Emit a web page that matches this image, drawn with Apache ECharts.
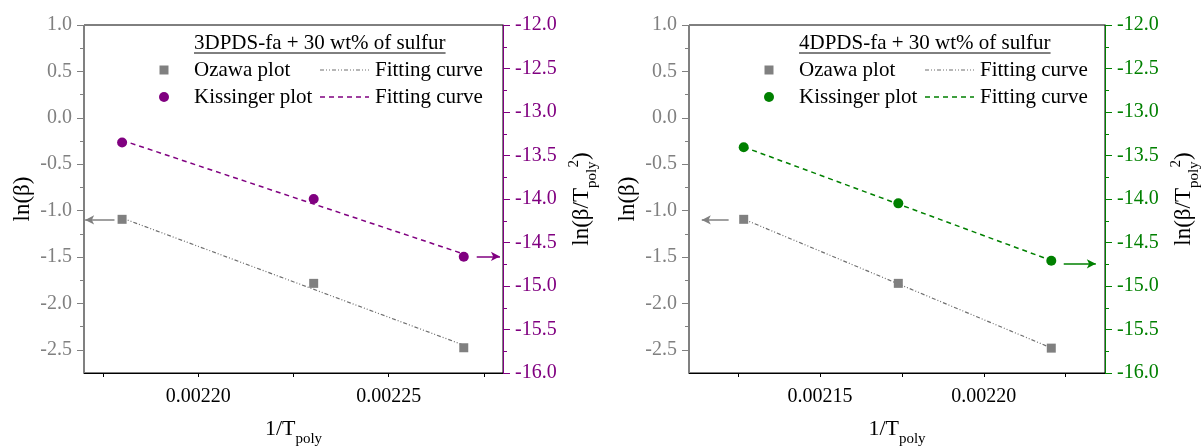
<!DOCTYPE html>
<html>
<head>
<meta charset="utf-8">
<title>Ozawa and Kissinger plots</title>
<script src="https://cdn.jsdelivr.net/npm/echarts@6/dist/echarts.min.js"></script>
<style>
  html, body { margin: 0; padding: 0; background: #fff; }
  #chart { width: 1202px; height: 447px; }
</style>
</head>
<body>
<div id="chart"></div>
<script>
// ---- data: 3DPDS-fa + 30 wt% of sulfur ----
const invT_3D = [0.0021800, 0.0022303, 0.0022697];
const ozawa_3D = [-1.094, -1.784, -2.478];          // ln(beta)
const kissinger_3D = [-13.351, -14.000, -14.664];   // ln(beta/Tpoly^2)
const ozawaFit_3D = [-1.080, -2.450];               // fitted values at first/last 1/Tpoly
const kissingerFit_3D = [-13.325, -14.632];
const leftArrow_3D = { x: [0.0021780, 0.0021703], y: -1.10 };
const rightArrow_3D = { x: [0.0022731, 0.0022792], y: -14.66 };

// ---- data: 4DPDS-fa + 30 wt% of sulfur ----
const invT_4D = [0.0021267, 0.0021739, 0.0022206];
const ozawa_4D = [-1.094, -1.784, -2.482];
const kissinger_4D = [-13.405, -14.050, -14.710];
const ozawaFit_4D = [-1.092, -2.480];
const kissingerFit_4D = [-13.402, -14.707];
const leftArrow_4D = { x: [0.0021221, 0.0021139], y: -1.10 };
const rightArrow_4D = { x: [0.0022244, 0.0022342], y: -14.745 };

// ---- axis ranges and tick values ----
const xRange_3D = [0.00217, 0.00228];
const xTicks_3D = [0.002175, 0.00220, 0.002225, 0.00225, 0.002275];
const xLabels_3D = [0.00220, 0.00225];
const xRange_4D = [0.00211, 0.002237];
const xTicks_4D = [0.002125, 0.00215, 0.002175, 0.00220, 0.002225];
const xLabels_4D = [0.00215, 0.00220];
const lnBetaRange = [-2.75, 1.0];
const lnBetaMajor = [1.0, 0.5, 0.0, -0.5, -1.0, -1.5, -2.0, -2.5];
const lnBetaMinor = [0.75, 0.25, -0.25, -0.75, -1.25, -1.75, -2.25];
const lnBetaT2Range = [-16, -12];

const titles = ['3DPDS-fa + 30 wt% of sulfur', '4DPDS-fa + 30 wt% of sulfur'];

const FONT = '"Liberation Serif", "Times New Roman", serif';
const GREY = '#808080';
const PURPLE = '#800080';
const GREEN = '#008000';

const chart = echarts.init(document.getElementById('chart'), null, { renderer: 'canvas' });

const panels = [
  { left: 84, width: 419, color: PURPLE, invT: invT_3D, ozawa: ozawa_3D, kiss: kissinger_3D,
    ozFit: ozawaFit_3D, kFit: kissingerFit_3D, la: leftArrow_3D, ra: rightArrow_3D,
    xRange: xRange_3D, xTicks: xTicks_3D, xLabels: xLabels_3D, title: titles[0] },
  { left: 689, width: 416, color: GREEN, invT: invT_4D, ozawa: ozawa_4D, kiss: kissinger_4D,
    ozFit: ozawaFit_4D, kFit: kissingerFit_4D, la: leftArrow_4D, ra: rightArrow_4D,
    xRange: xRange_4D, xTicks: xTicks_4D, xLabels: xLabels_4D, title: titles[1] }
];

const TOP = 25, HEIGHT = 348;
const grid = [], xAxis = [], yAxis = [], series = [], graphic = [];

const measure = (() => {
  const c = document.createElement('canvas').getContext('2d');
  return (txt, font) => { c.font = font; return c.measureText(txt).width; };
})();

panels.forEach((p, i) => {
  // main grid (with frame) and an overlapping grid used only for the minor ticks of ln(beta)
  const gMain = grid.length;
  grid.push({ left: p.left, top: TOP, width: p.width, height: HEIGHT, show: true,
              outerBoundsMode: 'none', containLabel: false,
              borderColor: '#000', borderWidth: 1, backgroundColor: 'transparent' });
  const gMinor = grid.length;
  grid.push({ left: p.left, top: TOP, width: p.width, height: HEIGHT, show: false,
              outerBoundsMode: 'none', containLabel: false });

  const xMain = xAxis.length;
  xAxis.push({
    gridIndex: gMain, type: 'value', position: 'bottom',
    min: p.xRange[0], max: p.xRange[1],
    axisLine: { onZero: false, lineStyle: { color: '#000', width: 1 } },
    axisTick: { show: true, length: 4, customValues: p.xTicks, lineStyle: { color: '#000' } },
    axisLabel: { customValues: p.xLabels, formatter: v => v.toFixed(5), color: '#000',
                 fontFamily: FONT, fontSize: 20, margin: 14 },
    splitLine: { show: false },
    name: '{a|1/T}{s|poly}', nameLocation: 'middle', nameGap: 45,
    nameTextStyle: { rich: {
      a: { fontFamily: FONT, fontSize: 22, color: '#000', lineHeight: 28, verticalAlign: 'top' },
      s: { fontFamily: FONT, fontSize: 15, color: '#000', lineHeight: 28, verticalAlign: 'bottom', padding: [0, 0, -1, 0] }
    } }
  });
  const xMinor = xAxis.length;
  xAxis.push({ gridIndex: gMinor, type: 'value', min: p.xRange[0], max: p.xRange[1], show: false });

  const yLeft = yAxis.length;
  yAxis.push({
    gridIndex: gMain, type: 'value', position: 'left',
    min: lnBetaRange[0], max: lnBetaRange[1],
    axisLine: { show: true, onZero: false, lineStyle: { color: GREY, width: 1 } },
    axisTick: { show: true, length: 7, customValues: lnBetaMajor, lineStyle: { color: GREY } },
    axisLabel: { customValues: lnBetaMajor, formatter: v => v.toFixed(1), color: GREY,
                 fontFamily: FONT, fontSize: 20, margin: 12 },
    splitLine: { show: false },
    name: 'ln(β)', nameLocation: 'middle', nameRotate: 90, nameGap: 50,
    nameTextStyle: { fontFamily: FONT, fontSize: 23, color: '#000' }
  });
  const yRight = yAxis.length;
  yAxis.push({
    gridIndex: gMain, type: 'value', position: 'right',
    min: lnBetaT2Range[0], max: lnBetaT2Range[1], interval: 0.5,
    axisLine: { show: true, onZero: false, lineStyle: { color: p.color, width: 1 } },
    axisTick: { show: true, length: 7, lineStyle: { color: p.color } },
    minorTick: { show: true, splitNumber: 2, length: 4, lineStyle: { color: p.color } },
    axisLabel: { formatter: v => v.toFixed(1), color: p.color, fontFamily: FONT, fontSize: 20, margin: 12 },
    splitLine: { show: false },
    name: '{a|ln(β/T}{s|poly}{p|2}{a|)}', nameLocation: 'middle', nameRotate: 90, nameGap: 64,
    nameTextStyle: { rich: {
      a: { fontFamily: FONT, fontSize: 23, color: '#000', lineHeight: 30 },
      s: { fontFamily: FONT, fontSize: 15, color: '#000', lineHeight: 30, verticalAlign: 'bottom', padding: [0, 0, -3, 0] },
      p: { fontFamily: FONT, fontSize: 15, color: '#000', lineHeight: 30, verticalAlign: 'top', padding: [0, 0, 0, -6] }
    } }
  });
  yAxis.push({
    gridIndex: gMinor, type: 'value', position: 'left',
    min: lnBetaRange[0], max: lnBetaRange[1],
    axisLine: { show: false, onZero: false },
    axisTick: { show: true, length: 4, customValues: lnBetaMinor, lineStyle: { color: GREY } },
    axisLabel: { show: false },
    splitLine: { show: false }
  });

  const pts = (ys) => p.invT.map((x, k) => [x, ys[k]]);
  const ends = (ys) => [[p.invT[0], ys[0]], [p.invT[p.invT.length - 1], ys[1]]];

  // Ozawa fitting curve (dash-dot-dot)
  series.push({
    type: 'line', xAxisIndex: xMain, yAxisIndex: yLeft, data: ends(p.ozFit),
    symbol: 'none', silent: true, z: 2,
    lineStyle: { color: '#6f6f6f', width: 1.2, type: [4, 2, 1, 2, 1, 2] }
  });
  // Kissinger fitting curve (dashed)
  series.push({
    type: 'line', xAxisIndex: xMain, yAxisIndex: yRight, data: ends(p.kFit),
    symbol: 'none', silent: true, z: 2,
    lineStyle: { color: p.color, width: 1.5, type: [5, 4] }
  });
  // Ozawa points with arrow to the left axis
  series.push({
    type: 'scatter', xAxisIndex: xMain, yAxisIndex: yLeft, data: pts(p.ozawa),
    symbol: 'rect', symbolSize: 9, itemStyle: { color: GREY, opacity: 1 }, z: 3,
    markLine: {
      silent: true, symbol: ['none', 'arrow'], symbolSize: [7, 9],
      label: { show: false },
      lineStyle: { color: GREY, width: 1.5, type: 'solid' },
      data: [[{ coord: [p.la.x[0], p.la.y] }, { coord: [p.la.x[1], p.la.y] }]]
    }
  });
  // Kissinger points with arrow to the right axis
  series.push({
    type: 'scatter', xAxisIndex: xMain, yAxisIndex: yRight, data: pts(p.kiss),
    symbol: 'circle', symbolSize: 10, itemStyle: { color: p.color, opacity: 1 }, z: 3,
    markLine: {
      silent: true, symbol: ['none', 'arrow'], symbolSize: [7, 9],
      label: { show: false },
      lineStyle: { color: p.color, width: 1.5, type: 'solid' },
      data: [[{ coord: [p.ra.x[0], p.ra.y] }, { coord: [p.ra.x[1], p.ra.y] }]]
    }
  });
  series.push({ type: 'scatter', xAxisIndex: xMinor, yAxisIndex: yAxis.length - 1, data: [] });

  // legend block
  const gx = p.left;
  const legFont = '21px ' + FONT;
  const tw = measure(p.title, legFont);
  graphic.push(
    { type: 'text', x: gx + 110, y: 43, silent: true,
      style: { text: p.title, font: legFont, fill: '#000', verticalAlign: 'middle' } },
    { type: 'line', silent: true, shape: { x1: gx + 110, y1: 53, x2: gx + 110 + tw, y2: 53 },
      style: { stroke: '#000', lineWidth: 1 } },
    { type: 'rect', silent: true, shape: { x: gx + 75.5, y: 65.5, width: 9, height: 9 }, style: { fill: GREY } },
    { type: 'text', x: gx + 110, y: 70, silent: true,
      style: { text: 'Ozawa plot', font: legFont, fill: '#000', verticalAlign: 'middle' } },
    { type: 'line', silent: true, shape: { x1: gx + 236, y1: 70, x2: gx + 285, y2: 70 },
      style: { stroke: '#6f6f6f', lineWidth: 1.2, lineDash: [4, 2, 1, 2, 1, 2] } },
    { type: 'text', x: gx + 291, y: 70, silent: true,
      style: { text: 'Fitting curve', font: legFont, fill: '#000', verticalAlign: 'middle' } },
    { type: 'circle', silent: true, shape: { cx: gx + 80, cy: 97, r: 5 }, style: { fill: p.color } },
    { type: 'text', x: gx + 110, y: 97, silent: true,
      style: { text: 'Kissinger plot', font: legFont, fill: '#000', verticalAlign: 'middle' } },
    { type: 'line', silent: true, shape: { x1: gx + 236, y1: 97, x2: gx + 285, y2: 97 },
      style: { stroke: p.color, lineWidth: 1.5, lineDash: [5, 4] } },
    { type: 'text', x: gx + 291, y: 97, silent: true,
      style: { text: 'Fitting curve', font: legFont, fill: '#000', verticalAlign: 'middle' } }
  );
});

chart.setOption({
  animation: false,
  backgroundColor: '#fff',
  grid, xAxis, yAxis, series, graphic
});
</script>
</body>
</html>
